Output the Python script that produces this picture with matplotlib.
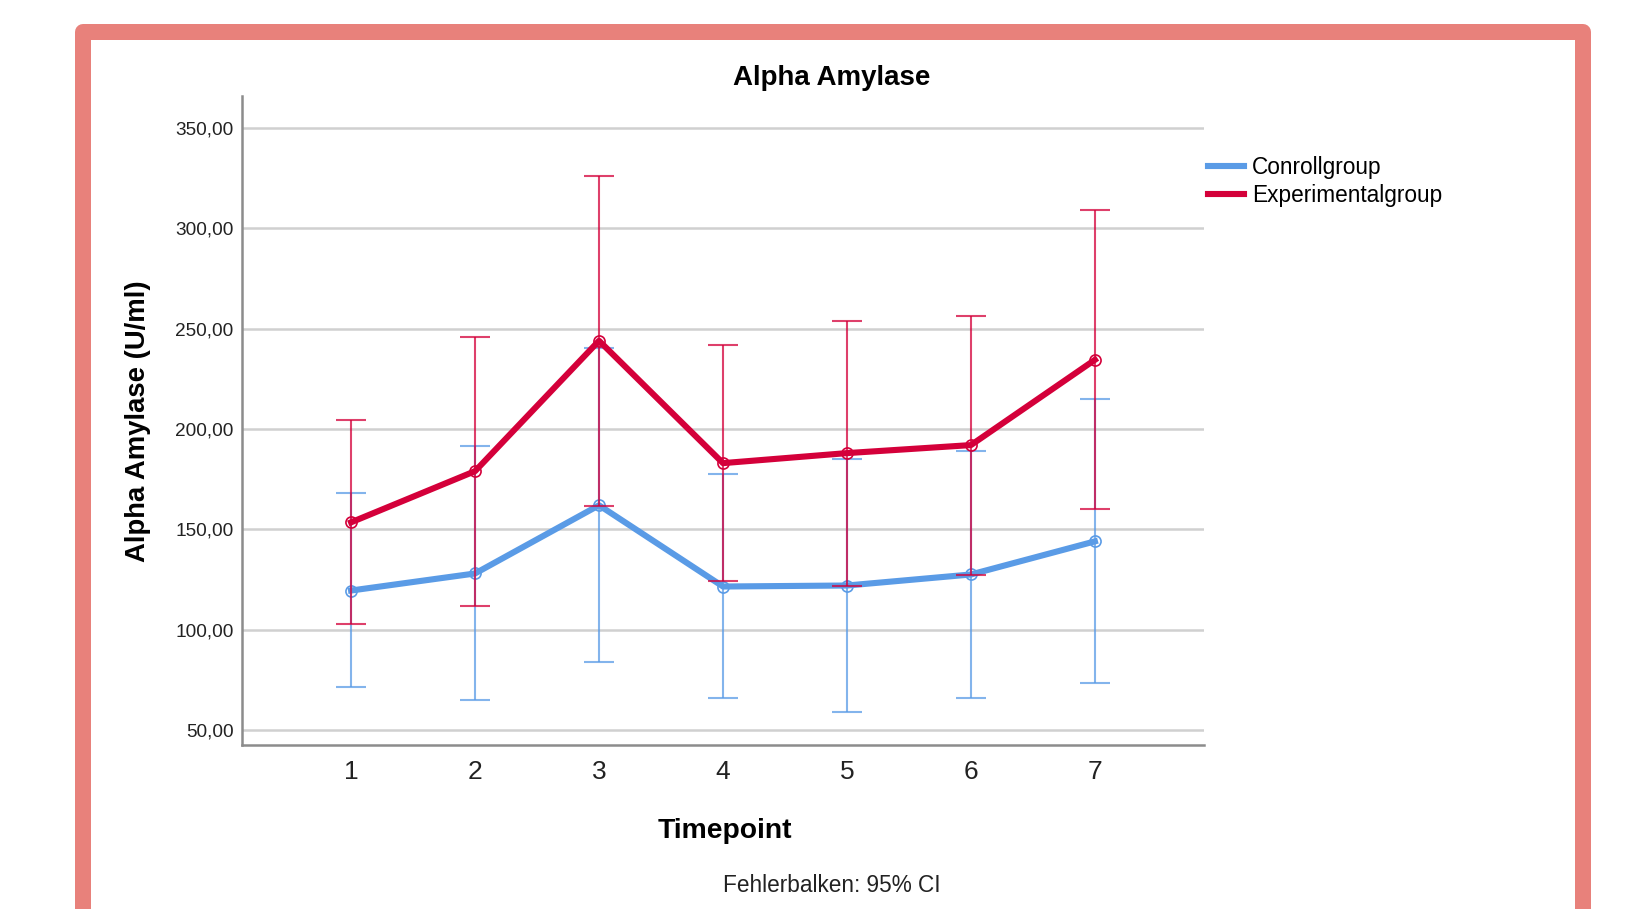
import matplotlib.pyplot as plt
from matplotlib.patches import Rectangle
from matplotlib.lines import Line2D

# --- data ---
timepoints = [1, 2, 3, 4, 5, 6, 7]

ctrl_mean = [119.5, 128.0, 162.0, 121.5, 122.0, 127.5, 144.0]
ctrl_lo = [71.5, 65.0, 84.0, 66.0, 59.0, 66.0, 73.5]
ctrl_hi = [168.0, 191.5, 240.5, 177.5, 185.0, 189.0, 215.0]

exp_mean = [153.5, 179.0, 244.0, 183.0, 188.0, 192.0, 234.5]
exp_lo = [103.0, 112.0, 161.5, 124.0, 122.0, 127.0, 160.0]
exp_hi = [204.5, 246.0, 326.0, 242.0, 254.0, 256.5, 309.0]

yticks = [50, 100, 150, 200, 250, 300, 350]
ytick_labels = ['50,00', '100,00', '150,00', '200,00', '250,00', '300,00', '350,00']

blue = '#5a9be6'
red = '#d4003a'

plt.rcParams['font.family'] = ['Liberation Sans', 'DejaVu Sans']

W, H = 1631, 909
fig = plt.figure(figsize=(W / 100, H / 100), dpi=100)
fig.patch.set_facecolor('white')

# pink frame around the chart (runs off the bottom)
frame = Rectangle((83 / W, -0.05), (1583 - 83) / W, 1 - 32 / H + 0.05,
                  transform=fig.transFigure, fill=False, edgecolor='#e8817b',
                  linewidth=16 * 0.72, joinstyle='round', zorder=0)
fig.add_artist(frame)

ax = fig.add_axes([242 / W, 1 - 745 / H, (1204 - 242) / W, (745 - 96) / H])


def draw_group(mean, lo, hi, color, z):
    err = [[m - l for m, l in zip(mean, lo)], [h - m for m, h in zip(mean, hi)]]
    ax.errorbar(timepoints, mean, yerr=err, fmt='none', ecolor=color,
                elinewidth=1.5, capsize=11, capthick=1.5, alpha=0.75, zorder=z)
    ax.plot(timepoints, mean, color=color, lw=4.4, zorder=z + 1,
            marker='o', markersize=8, markerfacecolor='none',
            markeredgecolor=color, markeredgewidth=1.2)


draw_group(ctrl_mean, ctrl_lo, ctrl_hi, blue, 3)
draw_group(exp_mean, exp_lo, exp_hi, red, 5)

ax.set_xlim(0.12, 7.88)
ax.set_ylim(42.5, 366)
ax.set_xticks(timepoints)
ax.set_xticklabels([str(t) for t in timepoints], fontsize=19, color='#222222')
ax.set_yticks(yticks)
ax.set_yticklabels(ytick_labels, fontsize=13.7, color='#222222')
ax.tick_params(axis='both', length=0)
ax.tick_params(axis='x', pad=11)
ax.tick_params(axis='y', pad=6)
ax.grid(axis='y', color='#d0d0d0', lw=1.8)
ax.set_axisbelow(True)
for s in ['top', 'right']:
    ax.spines[s].set_visible(False)
for s in ['left', 'bottom']:
    ax.spines[s].set_color('#8c8c8c')
    ax.spines[s].set_linewidth(1.8)

fig.text(832 / W, 1 - 78 / H, 'Alpha Amylase', ha='center', va='center',
         fontsize=20, fontweight='bold')
fig.text(725 / W, 1 - 831 / H, 'Timepoint', ha='center', va='center',
         fontsize=20.3, fontweight='bold')
fig.text(138 / W, 1 - 421 / H, 'Alpha Amylase (U/ml)', ha='center', va='center',
         rotation=90, fontsize=19.8, fontweight='bold')
fig.text(832 / W, 1 - 886 / H, 'Fehlerbalken: 95% CI', ha='center', va='center',
         fontsize=16.3, color='#222222')

handles = [Line2D([], [], color=blue, lw=4.4), Line2D([], [], color=red, lw=4.4)]
fig.legend(handles, ['Conrollgroup', 'Experimentalgroup'], loc='upper left',
           bbox_to_anchor=(1208 / W, 1 - 156 / H), frameon=False, fontsize=16.3,
           handlelength=1.6, handletextpad=0.35, labelspacing=0.22,
           borderaxespad=0, borderpad=0)

fig.savefig('out.png', dpi=100)
